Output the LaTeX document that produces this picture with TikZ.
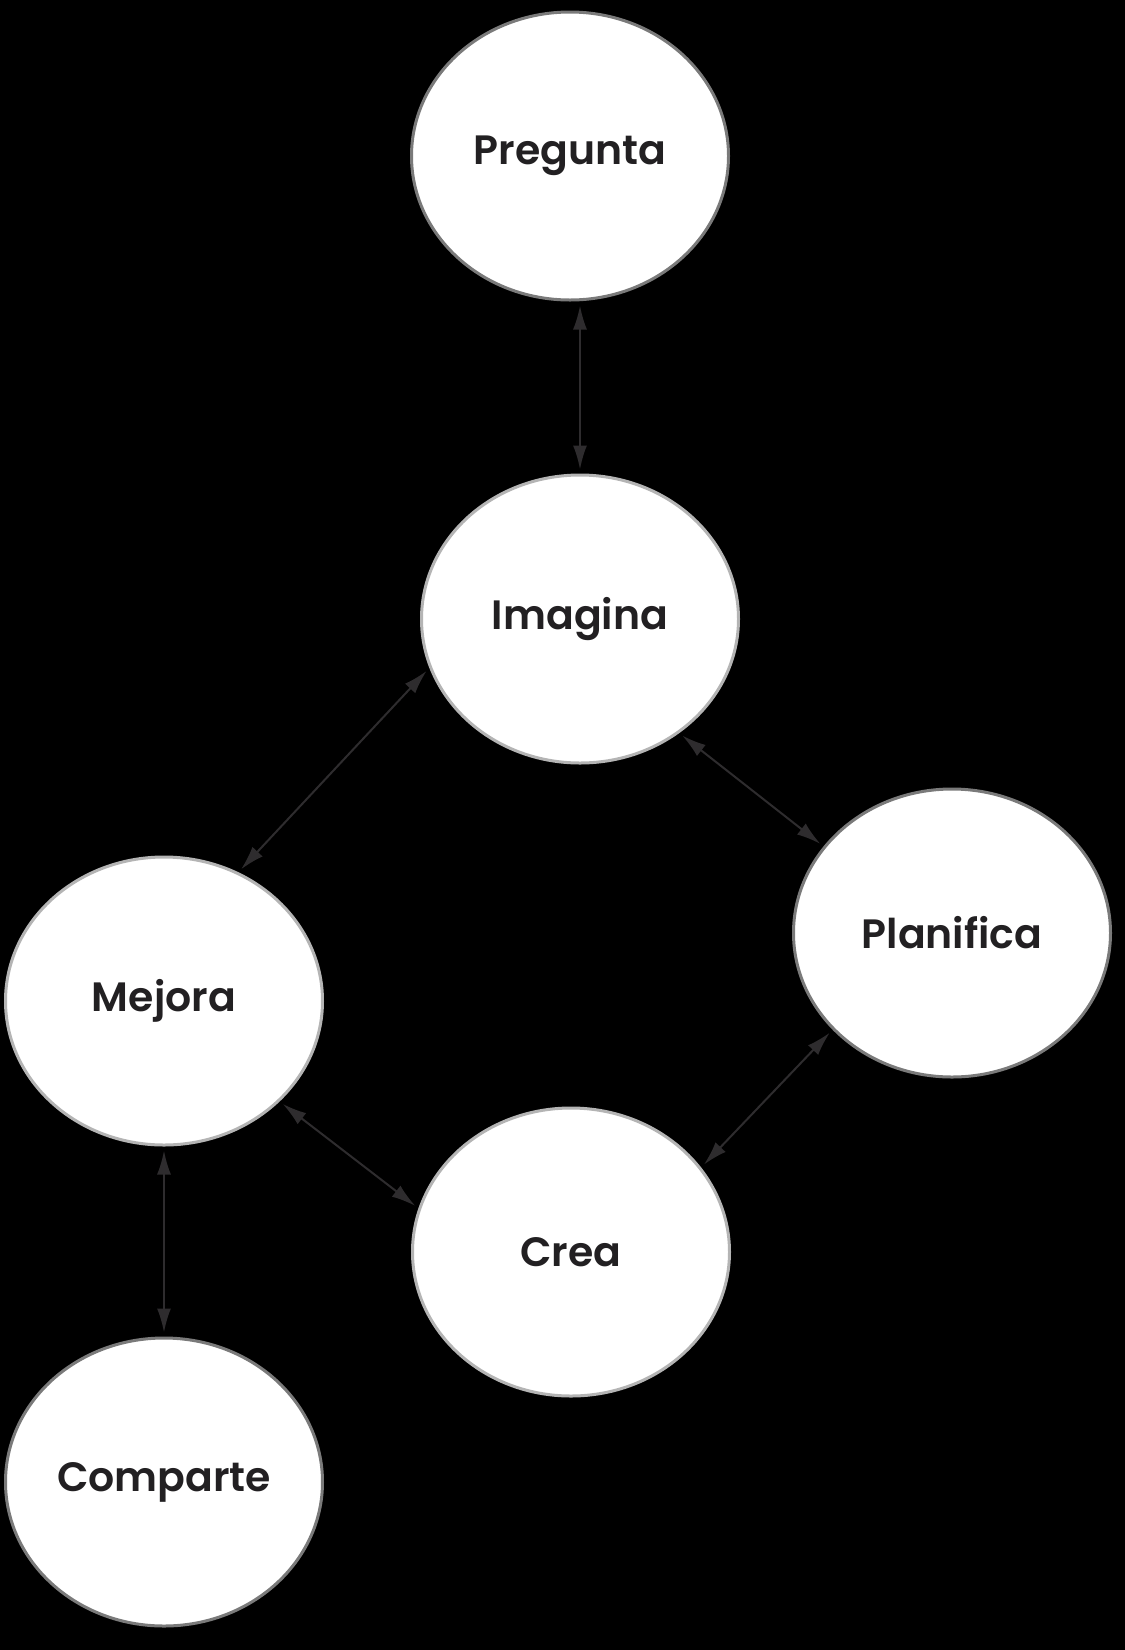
\documentclass[tikz,border=0pt]{standalone}
\usepackage{fontspec}
\setmainfont{Poppins}[UprightFont=* SemiBold]
\usepackage{tikz}
\usepackage{xcolor}
\usetikzlibrary{arrows.meta, shapes.geometric}

\definecolor{rimdark}{HTML}{7A7A7A}
\definecolor{rimlight}{HTML}{B4B4B4}
\definecolor{linkgray}{HTML}{2E2C2E}
\definecolor{labelink}{HTML}{222022}

\tikzset{
    stage/.style={ellipse, draw=rimdark, line width=3pt, fill=white, minimum width=317pt, minimum height=288pt, inner sep=0pt, font=\fontsize{41}{48}\selectfont, text=labelink},
    link/.style={{Latex[length=24pt, width=14pt]}-{Latex[length=24pt, width=14pt]}, draw=linkgray, line width=2pt, shorten <=4pt, shorten >=4pt}
}

\begin{document}
\begin{tikzpicture}[x=1pt, y=-1pt]
    % Background
    \fill[black] (0,0) rectangle (1125,1650);
    \useasboundingbox (0,0) rectangle (1125,1650);

    % Stages
    \node[stage] (preg) at (570,156) {Pregunta};
    \node[stage, draw=rimlight] (imag) at (580,619) {Imagina};
    \node[stage] (plan) at (952,933) {Planifica};
    \node[stage, draw=rimlight] (mejo) at (164,1001) {Mejora};
    \node[stage, draw=rimlight] (crea) at (571,1252) {Crea};
    \node[stage] (comp) at (164,1482) {Comparte};

    % Connectors
    \draw[link] (imag.north |- preg.south) -- (imag.north);
    \draw[link] (imag.198) -- (mejo.60);
    \draw[link] (imag.-49) -- (plan.146);
    \draw[link] (plan.219) -- (crea.33);
    \draw[link] (mejo.-41) -- (crea.164);
    \draw[link] (mejo.south -| comp.north) -- (comp.north);
\end{tikzpicture}
\end{document}
